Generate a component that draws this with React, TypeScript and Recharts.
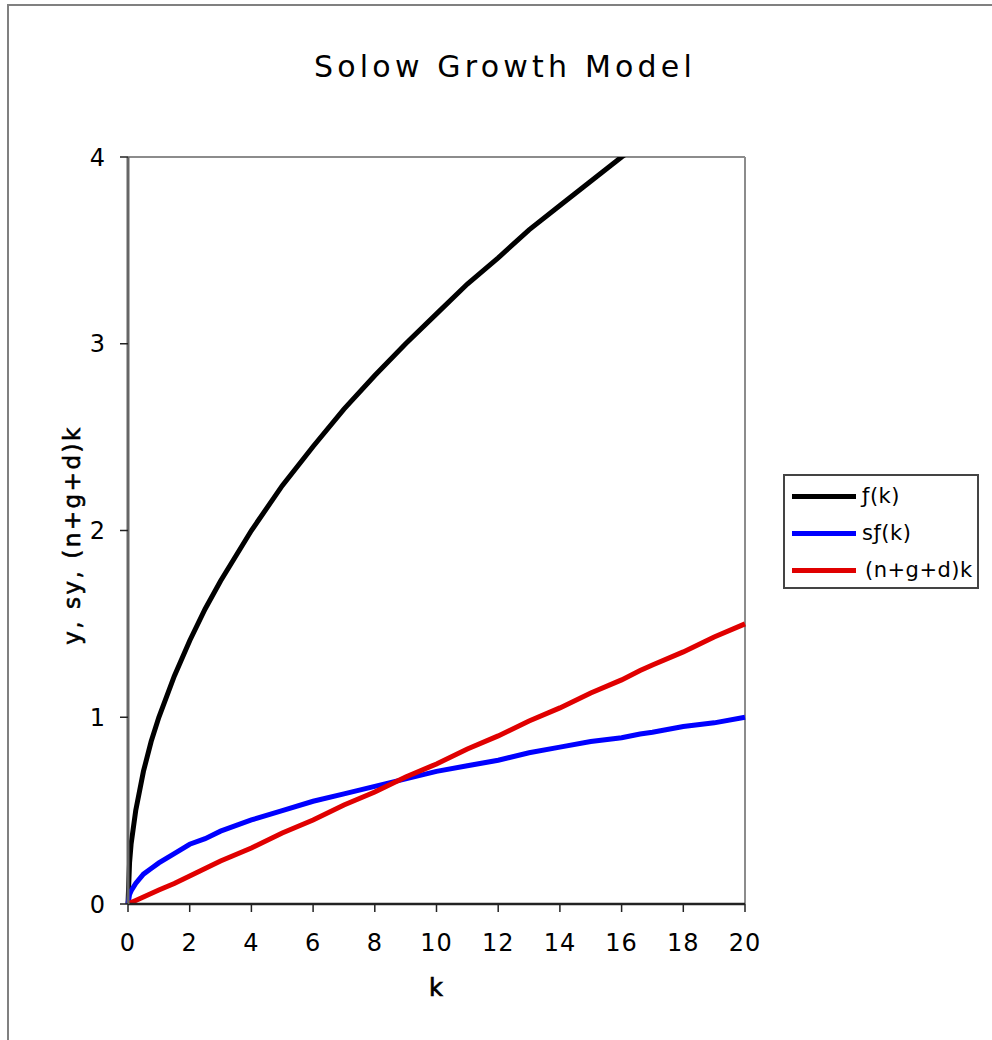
import { Label, Line, LineChart, ReferenceLine, XAxis, YAxis } from "recharts";

// capital per effective worker
const kValues = [0, 0.05, 0.1, 0.25, 0.5, 0.75, 1, 1.5, 2, 2.5, 3, 4, 5, 6, 7, 8, 9, 10, 11, 12, 13, 14, 15, 16, 16.6, 17, 18, 19, 20];
// f(k) (runs off the top past k≈16.6)
const outputValues = [0, 0.22, 0.32, 0.5, 0.71, 0.87, 1.0, 1.22, 1.41, 1.58, 1.73, 2.0, 2.24, 2.45, 2.65, 2.83, 3.0, 3.16, 3.32, 3.46, 3.61, 3.74, 3.87, 4.0, 4.07, null, null, null, null];
// s·f(k)
const savingValues = [0, 0.05, 0.07, 0.11, 0.16, 0.19, 0.22, 0.27, 0.32, 0.35, 0.39, 0.45, 0.5, 0.55, 0.59, 0.63, 0.67, 0.71, 0.74, 0.77, 0.81, 0.84, 0.87, 0.89, 0.91, 0.92, 0.95, 0.97, 1.0];
// (n+g+d)k
const breakEvenValues = [0, 0.004, 0.008, 0.019, 0.038, 0.056, 0.075, 0.11, 0.15, 0.19, 0.23, 0.3, 0.38, 0.45, 0.53, 0.6, 0.68, 0.75, 0.83, 0.9, 0.98, 1.05, 1.13, 1.2, 1.25, 1.28, 1.35, 1.43, 1.5];

const xTicks = [0, 2, 4, 6, 8, 10, 12, 14, 16, 18, 20];
const yTicks = [0, 1, 2, 3, 4];

const seriesNames = ["ƒ(k)", "sƒ(k)", "(n+g+d)k"];
const seriesColors = ["#000000", "#0000ff", "#e00000"];

const data = kValues.map((k, i) => ({
  k,
  f: outputValues[i],
  sf: savingValues[i],
  be: breakEvenValues[i],
}));

const FONT = "'DejaVu Sans', Verdana, sans-serif";
const tickStyle = { fill: "#000", fontSize: 24, fontFamily: FONT, letterSpacing: 1 };

export default function App() {
  return (
    <div style={{ position: "absolute", left: 0, top: 0, width: 992, height: 1040, background: "#fff", overflow: "hidden" }}>
      <div style={{ position: "absolute", left: 7, top: 4, width: 1000, height: 1060, border: "2px solid #808080", boxSizing: "border-box" }} />
      <div
        style={{
          position: "absolute",
          left: 0,
          width: 1010,
          top: 49,
          textAlign: "center",
          fontFamily: FONT,
          fontSize: 30,
          letterSpacing: 4.2,
          color: "#000",
        }}
      >
        Solow Growth Model
      </div>

      <div style={{ position: "absolute", left: 0, top: 0 }}>
        <LineChart width={992} height={1040} data={data} margin={{ top: 157, right: 247, bottom: 96, left: 0 }}>
          <XAxis
            dataKey="k"
            type="number"
            domain={[0, 20]}
            ticks={xTicks}
            interval={0}
            height={40}
            tick={tickStyle}
            tickSize={8}
            tickMargin={22}
            axisLine={{ stroke: "#222", strokeWidth: 2.5 }}
            tickLine={{ stroke: "#222", strokeWidth: 1.5 }}
          >
            <Label
              content={() => (
                <text x={436} y={988} textAnchor="middle" dominantBaseline="central" fontFamily={FONT} fontSize={24} stroke="#000" strokeWidth={0.7} fill="#000">
                  k
                </text>
              )}
            />
          </XAxis>
          <YAxis
            type="number"
            domain={[0, 4]}
            ticks={yTicks}
            allowDataOverflow
            width={128}
            tick={tickStyle}
            tickSize={8}
            tickMargin={14}
            axisLine={{ stroke: "#666", strokeWidth: 3 }}
            tickLine={{ stroke: "#222", strokeWidth: 1.5 }}
          >
            <Label
              content={() => (
                <text
                  x={72}
                  y={535}
                  transform="rotate(-90 72 535)"
                  textAnchor="middle"
                  dominantBaseline="central"
                  fontFamily={FONT}
                  fontSize={23}
                  letterSpacing={2.5}
                  stroke="#000"
                  strokeWidth={0.6}
                  fill="#000"
                >
                  y, sy, (n+g+d)k
                </text>
              )}
            />
          </YAxis>
          <ReferenceLine y={4} stroke="#8c8c8c" strokeWidth={2} />
          <ReferenceLine x={20} stroke="#8c8c8c" strokeWidth={2} />
          <Line dataKey="f" name={seriesNames[0]} stroke={seriesColors[0]} strokeWidth={5} dot={false} type="linear" isAnimationActive={false} />
          <Line dataKey="sf" name={seriesNames[1]} stroke={seriesColors[1]} strokeWidth={5} dot={false} type="linear" isAnimationActive={false} />
          <Line dataKey="be" name={seriesNames[2]} stroke={seriesColors[2]} strokeWidth={5} dot={false} type="linear" isAnimationActive={false} />
        </LineChart>
      </div>

      <div
        style={{
          position: "absolute",
          left: 783,
          top: 474,
          width: 196,
          height: 115,
          border: "2px solid #444",
          boxSizing: "border-box",
          fontFamily: FONT,
          fontSize: 21,
          letterSpacing: 0.5,
          color: "#000",
        }}
      >
        {seriesNames.map((name, i) => (
          <div key={name} style={{ position: "absolute", left: 7, top: 3 + i * 37, height: 34, display: "flex", alignItems: "center" }}>
            <span style={{ display: "inline-block", width: 64, height: 5, background: seriesColors[i], marginRight: i === 2 ? 9 : 6 }} />
            <span>{name}</span>
          </div>
        ))}
      </div>
    </div>
  );
}
